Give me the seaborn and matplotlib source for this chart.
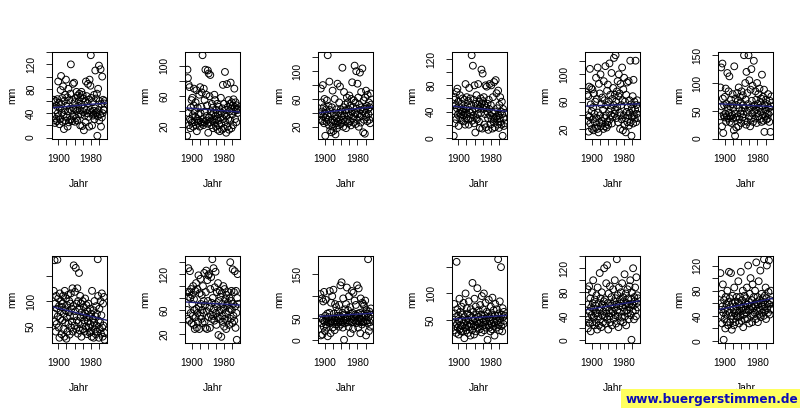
import matplotlib

matplotlib.use("Agg")
import matplotlib.pyplot as plt
from matplotlib.patches import Rectangle
from matplotlib.ticker import FixedLocator, FuncFormatter, MultipleLocator
import seaborn as sns

# Jahresniederschlag (mm) je Station, 1889-2014
YEARS = list(range(1889, 2015))

P1 = [62, 28, 58, 24, 45, 60, 31, 52, 27, 63, 40, 92, 35, 57, 22, 48, 30, 78, 101, 55, 41,
      65, 26, 84, 37, 14, 60, 45, 70, 28, 95, 52, 33, 66, 18, 43, 80, 25, 61, 47, 29, 72,
      120, 30, 44, 62, 27, 88, 48, 35, 90, 58, 26, 46, 65, 32, 75, 44, 28, 69, 52, 38, 60,
      72, 45, 20, 66, 38, 75, 54, 19, 70, 42, 64, 12, 48, 36, 60, 25, 92, 45, 68, 40, 56,
      88, 34, 62, 18, 95, 45, 85, 135, 65, 42, 20, 58, 36, 38, 44, 70, 30, 48, 110, 40, 64,
      42, 72, 3, 35, 80, 45, 118, 28, 60, 38, 112, 18, 55, 33, 100, 40, 62, 46, 45, 56, 60]
P2 = [8, 95, 84, 38, 75, 22, 72, 30, 18, 45, 28, 55, 25, 58, 35, 20, 48, 70, 26, 40, 33,
      52, 22, 68, 14, 30, 45, 25, 36, 28, 62, 20, 72, 38, 26, 46, 65, 24, 114, 30, 22, 70,
      26, 55, 40, 95, 28, 62, 34, 48, 24, 94, 12, 90, 32, 60, 26, 88, 40, 22, 35, 50, 28,
      45, 18, 38, 30, 62, 25, 55, 34, 20, 42, 30, 50, 16, 36, 28, 46, 22, 14, 40, 32, 58,
      24, 38, 16, 44, 75, 30, 18, 50, 36, 92, 26, 42, 12, 34, 76, 20, 46, 30, 55, 16, 40,
      50, 28, 78, 44, 18, 52, 36, 48, 22, 56, 40, 70, 46, 30, 52, 42, 26, 48, 44, 38, 42]
P3 = [38, 75, 30, 55, 42, 28, 80, 35, 48, 25, 60, 40, 7, 33, 45, 27, 58, 36, 123, 30, 50,
      22, 85, 44, 15, 38, 26, 12, 48, 30, 72, 20, 14, 40, 28, 60, 35, 9, 25, 45, 32, 18,
      82, 28, 40, 22, 55, 30, 78, 24, 45, 35, 26, 42, 105, 30, 20, 48, 70, 36, 28, 52, 44,
      18, 40, 62, 30, 55, 25, 45, 36, 65, 28, 50, 38, 22, 60, 42, 84, 32, 48, 26, 58, 35,
      108, 40, 55, 24, 100, 46, 30, 82, 38, 62, 20, 52, 34, 98, 44, 26, 70, 48, 36, 104, 42,
      12, 58, 30, 46, 10, 62, 40, 72, 34, 50, 28, 66, 45, 38, 55, 30, 48, 25, 68, 42, 52]
P4 = [3, 58, 22, 62, 40, 50, 28, 70, 45, 75, 35, 55, 18, 48, 38, 65, 30, 42, 36, 52, 26,
      40, 60, 34, 45, 25, 58, 38, 20, 82, 44, 30, 62, 36, 48, 28, 56, 20, 76, 42, 38, 60,
      30, 50, 126, 26, 40, 110, 34, 58, 22, 80, 45, 8, 52, 30, 65, 28, 50, 36, 82, 44, 25,
      55, 15, 48, 60, 38, 104, 52, 14, 98, 56, 44, 62, 20, 50, 36, 80, 16, 46, 78, 40, 52,
      30, 12, 58, 44, 82, 34, 20, 50, 80, 28, 38, 14, 62, 32, 24, 85, 30, 16, 40, 88, 32,
      68, 28, 45, 20, 72, 34, 15, 50, 30, 62, 24, 40, 20, 55, 36, 3, 44, 30, 18, 38, 22]
P5 = [70, 32, 40, 68, 16, 82, 38, 108, 28, 56, 80, 46, 20, 78, 34, 52, 18, 72, 42, 30, 60,
      22, 95, 36, 64, 20, 110, 44, 15, 86, 30, 72, 40, 100, 24, 56, 32, 66, 28, 48, 20, 90,
      36, 62, 24, 112, 40, 55, 22, 76, 30, 85, 26, 60, 45, 116, 34, 70, 50, 40, 102, 28, 64,
      38, 80, 55, 124, 42, 70, 48, 128, 60, 36, 75, 52, 90, 30, 68, 100, 44, 72, 20, 86, 40,
      55, 34, 110, 62, 18, 78, 40, 95, 26, 60, 36, 15, 70, 45, 88, 30, 52, 40, 90, 25, 62,
      44, 120, 30, 56, 10, 50, 38, 68, 28, 92, 40, 60, 35, 48, 120, 30, 55, 42, 62, 36, 50]
P6 = [92, 40, 128, 58, 22, 135, 72, 10, 42, 60, 38, 75, 45, 90, 30, 62, 40, 118, 55, 36, 85,
      46, 112, 30, 58, 40, 70, 28, 62, 42, 80, 36, 55, 15, 130, 45, 5, 72, 38, 20, 60, 82,
      40, 68, 22, 92, 55, 35, 75, 45, 65, 28, 85, 50, 38, 78, 60, 44, 150, 32, 55, 100, 70,
      25, 120, 48, 82, 30, 62, 150, 40, 105, 55, 22, 88, 36, 125, 68, 45, 95, 30, 58, 140, 50,
      60, 36, 85, 52, 70, 28, 100, 45, 62, 80, 40, 55, 90, 35, 66, 48, 72, 30, 115, 58, 42,
      75, 32, 88, 12, 60, 40, 50, 70, 34, 45, 62, 36, 80, 44, 55, 30, 68, 48, 12, 58, 76]
P7 = [120, 75, 180, 60, 95, 40, 110, 55, 85, 181, 70, 105, 48, 90, 28, 115, 65, 80, 100, 35, 88,
      62, 95, 110, 45, 75, 30, 120, 58, 82, 105, 26, 68, 92, 40, 112, 55, 78, 100, 34, 70, 95,
      115, 48, 85, 60, 125, 40, 90, 170, 70, 52, 118, 80, 165, 45, 95, 62, 125, 36, 100, 58, 155,
      85, 42, 110, 68, 95, 30, 78, 55, 100, 45, 72, 88, 62, 40, 105, 75, 50, 92, 68, 35, 80,
      60, 95, 48, 70, 38, 85, 55, 40, 75, 30, 120, 50, 65, 82, 28, 58, 100, 44, 70, 35, 90,
      52, 75, 40, 182, 110, 62, 28, 85, 45, 58, 100, 36, 72, 115, 48, 30, 95, 52, 108, 38, 24]
P8 = [60, 90, 45, 130, 82, 42, 90, 125, 80, 55, 95, 38, 85, 70, 50, 100, 35, 78, 60, 28, 92,
      48, 105, 62, 30, 95, 55, 40, 118, 65, 28, 88, 50, 112, 70, 45, 85, 60, 38, 100, 55, 75,
      122, 40, 68, 30, 90, 126, 58, 28, 110, 75, 118, 48, 120, 65, 30, 95, 52, 115, 72, 45, 145,
      80, 50, 130, 62, 42, 98, 70, 124, 55, 35, 90, 65, 48, 105, 18, 75, 58, 92, 45, 82, 60,
      15, 88, 50, 70, 40, 100, 62, 32, 95, 45, 78, 55, 28, 85, 68, 42, 72, 90, 58, 35, 80,
      62, 140, 45, 75, 92, 60, 38, 128, 70, 50, 90, 42, 125, 66, 30, 92, 55, 10, 80, 120, 70]
P9 = [105, 10, 50, 38, 95, 12, 45, 88, 30, 110, 42, 20, 55, 92, 35, 48, 28, 60, 8, 40, 52,
      45, 62, 112, 38, 15, 85, 42, 48, 100, 28, 40, 115, 60, 45, 22, 82, 50, 35, 75, 44, 55,
      40, 65, 48, 30, 80, 42, 55, 125, 35, 50, 132, 40, 62, 28, 95, 45, 0, 58, 38, 70, 48,
      82, 45, 120, 52, 40, 68, 30, 100, 55, 42, 75, 15, 60, 48, 112, 40, 62, 25, 108, 52, 45,
      90, 58, 42, 80, 38, 55, 125, 44, 60, 28, 118, 48, 40, 62, 15, 95, 45, 58, 35, 85, 42,
      82, 40, 78, 60, 42, 90, 55, 10, 68, 44, 60, 38, 185, 52, 20, 65, 40, 30, 58, 72, 48]
P10 = [45, 80, 30, 62, 38, 55, 25, 160, 42, 70, 35, 58, 22, 48, 90, 32, 65, 40, 28, 75, 50,
       38, 60, 28, 82, 45, 15, 55, 35, 100, 48, 30, 72, 40, 62, 25, 50, 85, 36, 58, 42, 20,
       70, 42, 55, 30, 120, 48, 65, 38, 22, 90, 52, 40, 75, 28, 60, 45, 110, 35, 55, 68, 42,
       50, 32, 78, 44, 60, 26, 95, 52, 38, 70, 45, 100, 30, 58, 40, 82, 48, 35, 65, 55, 12,
       62, 40, 88, 35, 55, 48, 28, 75, 42, 60, 32, 92, 50, 38, 68, 45, 20, 58, 80, 44, 52,
       35, 70, 48, 58, 165, 40, 62, 30, 85, 52, 45, 150, 38, 60, 28, 72, 55, 42, 65, 48, 58]
P11 = [40, 85, 20, 60, 35, 90, 48, 28, 70, 15, 55, 42, 80, 30, 62, 100, 38, 52, 25, 68, 45,
       58, 30, 75, 45, 18, 88, 40, 62, 25, 50, 112, 35, 70, 55, 22, 80, 42, 60, 30, 48, 65,
       120, 40, 68, 28, 55, 95, 45, 125, 35, 62, 18, 78, 50, 40, 90, 30, 58, 45, 72, 25, 60,
       48, 85, 36, 65, 55, 100, 42, 70, 28, 60, 135, 50, 75, 40, 22, 88, 58, 46, 68, 32, 80,
       62, 38, 95, 55, 72, 30, 65, 48, 110, 40, 58, 78, 25, 62, 50, 85, 45, 70, 35, 60, 90,
       55, 100, 42, 68, 1, 80, 60, 48, 120, 58, 35, 72, 65, 88, 50, 40, 105, 62, 75, 55, 70]
P12 = [108, 60, 40, 75, 28, 55, 90, 45, 2, 65, 35, 50, 20, 70, 42, 58, 30, 80, 48, 25, 62,
       110, 45, 68, 30, 55, 108, 40, 18, 60, 72, 35, 50, 25, 85, 44, 62, 30, 55, 40, 70, 48,
       38, 62, 95, 45, 28, 58, 70, 40, 110, 52, 32, 65, 48, 80, 22, 55, 42, 72, 35, 60, 50,
       68, 45, 85, 35, 58, 120, 48, 62, 28, 75, 50, 100, 40, 55, 65, 30, 90, 52, 42, 70, 58,
       45, 80, 55, 35, 125, 62, 48, 70, 30, 58, 95, 42, 65, 50, 112, 38, 60, 75, 45, 55, 68,
       62, 40, 130, 55, 72, 48, 85, 35, 68, 120, 52, 60, 45, 78, 128, 58, 42, 65, 50, 80, 62]

PANELS = [P1, P2, P3, P4, P5, P6, P7, P8, P9, P10, P11, P12]

# y-Achse: Tickabstand und beschriftete Ticks je Panel
Y_STEPS = [20, 20, 20, 20, 20, 50, 50, 20, 50, 50, 20, 20]
Y_LABELS = [[0, 40, 80, 120], [20, 60, 100], [20, 60, 100], [0, 40, 80, 120],
            [20, 60, 100], [0, 50, 100, 150], [50, 100], [20, 60, 120],
            [0, 50, 150], [50, 100], [0, 40, 80, 120], [0, 40, 80, 120]]
X_TICKS = [1900, 1920, 1940, 1960, 1980, 2000]
X_LABELS = [1900, 1980]

X_TITLE = "Jahr"
Y_TITLE = "mm"
WATERMARK = "www.buergerstimmen.de"

# Layout in Pixeln (800 x 408)
FIG_W, FIG_H = 800, 408
COL_W, ROW_H = FIG_W / 6, 204
BOX_LEFT, BOX_TOP, BOX_W, BOX_H = 51.7, 52, 55, 87
LINE_COLOR = "#22227e"


def r_limits(values):
    lo, hi = min(values), max(values)
    pad = 0.04 * (hi - lo)
    return lo - pad, hi + pad


def label_formatter(shown):
    shown = set(shown)
    return FuncFormatter(lambda v, _pos: f"{int(round(v))}" if int(round(v)) in shown else "")


sns.set_theme(style="ticks")
plt.rcParams["font.family"] = ["Liberation Sans", "DejaVu Sans"]
plt.rcParams["axes.edgecolor"] = "black"
plt.rcParams["axes.linewidth"] = 0.75

fig = plt.figure(figsize=(FIG_W / 100, FIG_H / 100), dpi=100)
fig.patch.set_facecolor("white")

xlim = r_limits(YEARS)
for i, values in enumerate(PANELS):
    row, col = divmod(i, 6)
    left = (col * COL_W + BOX_LEFT) / FIG_W
    bottom = 1 - (row * ROW_H + BOX_TOP + BOX_H) / FIG_H
    ax = fig.add_axes([left, bottom, BOX_W / FIG_W, BOX_H / FIG_H])
    ax.set_facecolor("white")
    ylim = r_limits(values)
    ax.set_xlim(xlim)
    ax.set_ylim(ylim)

    sns.scatterplot(x=YEARS, y=values, ax=ax, marker="o", s=24,
                    facecolors="none", edgecolor="black", linewidth=0.7, legend=False)
    sns.regplot(x=YEARS, y=values, ax=ax, scatter=False, ci=None, truncate=False,
                line_kws={"color": LINE_COLOR, "lw": 1.0})
    ax.set_xlim(xlim)
    ax.set_ylim(ylim)

    ax.xaxis.set_major_locator(FixedLocator(X_TICKS))
    ax.xaxis.set_major_formatter(label_formatter(X_LABELS))
    ax.yaxis.set_major_locator(MultipleLocator(Y_STEPS[i]))
    ax.yaxis.set_major_formatter(label_formatter(Y_LABELS[i]))
    ax.tick_params(axis="both", length=4.3, width=0.6, color="black",
                   labelsize=7.4, labelcolor="black")
    ax.tick_params(axis="x", pad=6.3)
    ax.tick_params(axis="y", pad=7.0)
    for lbl in ax.get_yticklabels():
        lbl.set_rotation(90)
        lbl.set_verticalalignment("center")

    for side in ["top", "right", "bottom", "left"]:
        ax.spines[side].set_visible(True)
        ax.spines[side].set_color("black")
        ax.spines[side].set_linewidth(0.75)

    ax.set_xlabel(X_TITLE, fontsize=7.4, color="black")
    ax.set_ylabel(Y_TITLE, fontsize=7.4, color="black")
    ax.xaxis.set_label_coords(0.5, -45 / BOX_H)
    ax.xaxis.label.set_verticalalignment("center")
    ax.yaxis.set_label_coords(-39.4 / BOX_W, 0.5)
    ax.yaxis.label.set_verticalalignment("center")

# Wasserzeichen unten rechts
fig.patches.append(Rectangle((621 / FIG_W, 0), 1 - 621 / FIG_W, 19 / FIG_H,
                             transform=fig.transFigure, facecolor="#ffff5e",
                             edgecolor="none", zorder=10))
fig.text(712 / FIG_W, 1 - 399 / FIG_H, WATERMARK, ha="center", va="center",
         fontsize=8.7, fontweight="bold", color="#0b0bb8", family="DejaVu Sans", zorder=11)

fig.savefig("out.png", dpi=100, facecolor="white")
plt.close(fig)
